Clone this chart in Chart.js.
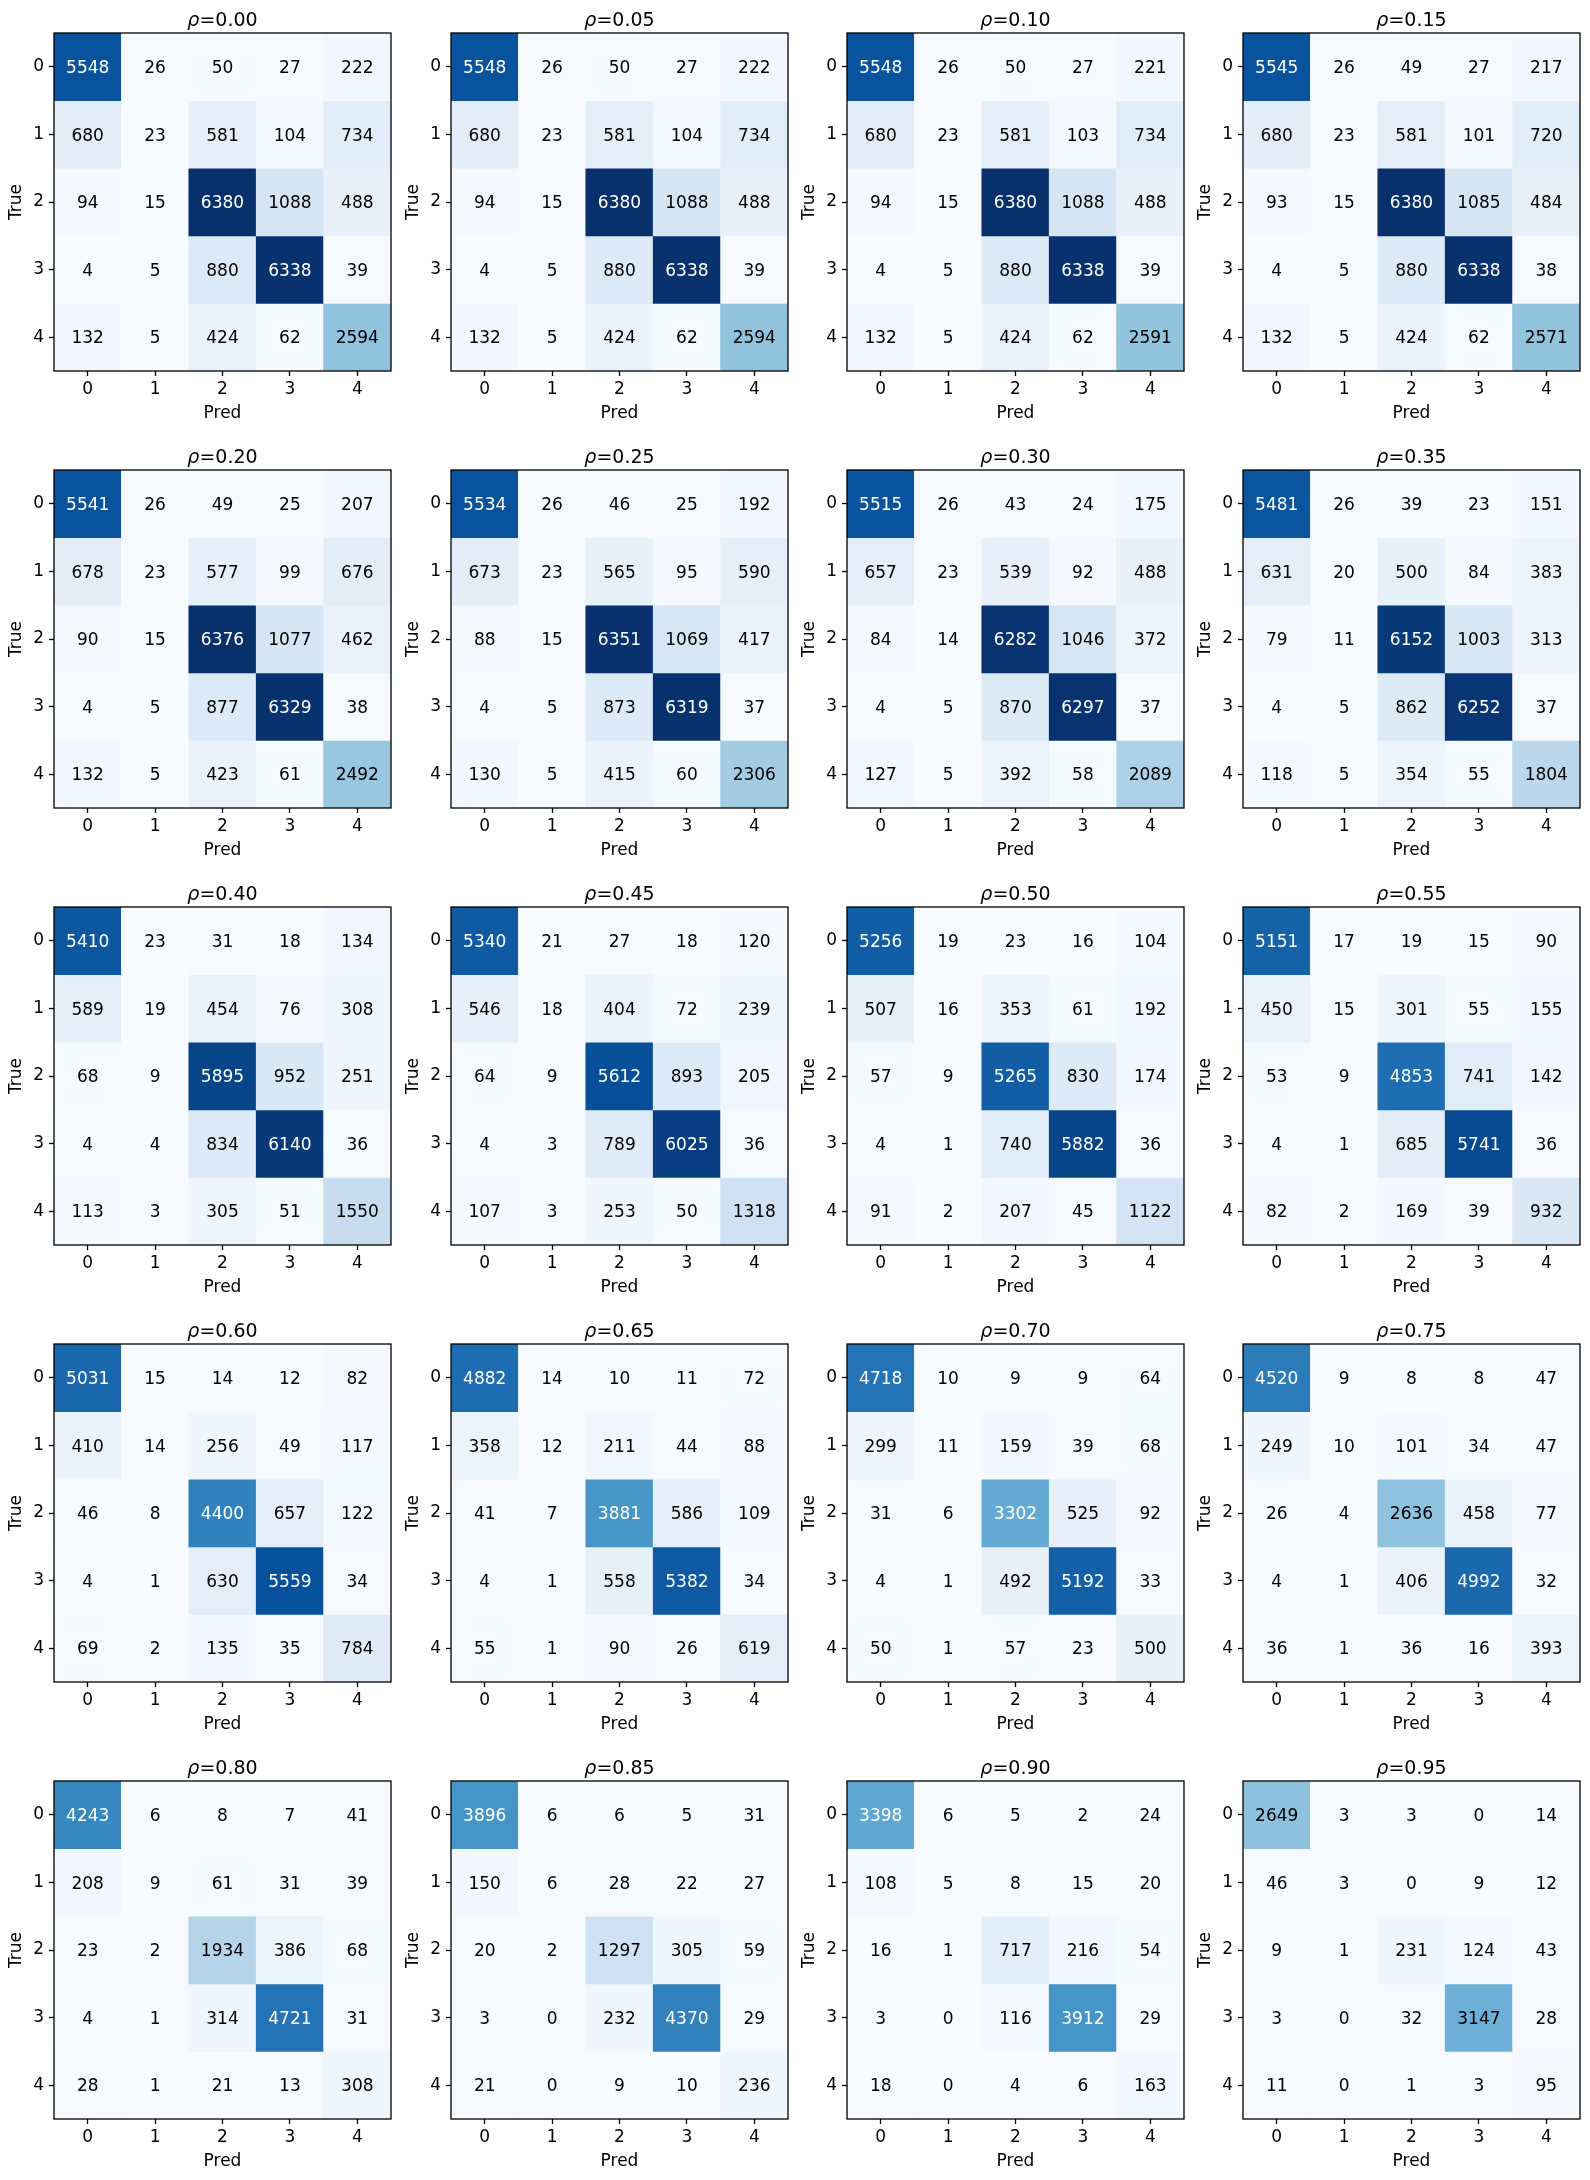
<!DOCTYPE html>
<html>
<head>
<meta charset="utf-8">
<script src="https://cdn.jsdelivr.net/npm/chart.js@4.4.1/dist/chart.umd.min.js"></script>
<style>
  html, body { margin: 0; padding: 0; background: #ffffff; }
  #wrap { position: relative; width: 1590px; height: 2180px; overflow: hidden; background: #ffffff; }
  #wrap canvas { position: absolute; }
</style>
</head>
<body>
<div id="wrap"></div>
<script>
// ---------------- data ----------------
const rhoLabels = ['0.00','0.05','0.10','0.15','0.20','0.25','0.30','0.35','0.40','0.45',
                   '0.50','0.55','0.60','0.65','0.70','0.75','0.80','0.85','0.90','0.95'];
const predLabels = ['0','1','2','3','4'];
const trueLabels = ['0','1','2','3','4'];

const cm_000 = [[5548,26,50,27,222],[680,23,581,104,734],[94,15,6380,1088,488],[4,5,880,6338,39],[132,5,424,62,2594]];
const cm_005 = [[5548,26,50,27,222],[680,23,581,104,734],[94,15,6380,1088,488],[4,5,880,6338,39],[132,5,424,62,2594]];
const cm_010 = [[5548,26,50,27,221],[680,23,581,103,734],[94,15,6380,1088,488],[4,5,880,6338,39],[132,5,424,62,2591]];
const cm_015 = [[5545,26,49,27,217],[680,23,581,101,720],[93,15,6380,1085,484],[4,5,880,6338,38],[132,5,424,62,2571]];
const cm_020 = [[5541,26,49,25,207],[678,23,577,99,676],[90,15,6376,1077,462],[4,5,877,6329,38],[132,5,423,61,2492]];
const cm_025 = [[5534,26,46,25,192],[673,23,565,95,590],[88,15,6351,1069,417],[4,5,873,6319,37],[130,5,415,60,2306]];
const cm_030 = [[5515,26,43,24,175],[657,23,539,92,488],[84,14,6282,1046,372],[4,5,870,6297,37],[127,5,392,58,2089]];
const cm_035 = [[5481,26,39,23,151],[631,20,500,84,383],[79,11,6152,1003,313],[4,5,862,6252,37],[118,5,354,55,1804]];
const cm_040 = [[5410,23,31,18,134],[589,19,454,76,308],[68,9,5895,952,251],[4,4,834,6140,36],[113,3,305,51,1550]];
const cm_045 = [[5340,21,27,18,120],[546,18,404,72,239],[64,9,5612,893,205],[4,3,789,6025,36],[107,3,253,50,1318]];
const cm_050 = [[5256,19,23,16,104],[507,16,353,61,192],[57,9,5265,830,174],[4,1,740,5882,36],[91,2,207,45,1122]];
const cm_055 = [[5151,17,19,15,90],[450,15,301,55,155],[53,9,4853,741,142],[4,1,685,5741,36],[82,2,169,39,932]];
const cm_060 = [[5031,15,14,12,82],[410,14,256,49,117],[46,8,4400,657,122],[4,1,630,5559,34],[69,2,135,35,784]];
const cm_065 = [[4882,14,10,11,72],[358,12,211,44,88],[41,7,3881,586,109],[4,1,558,5382,34],[55,1,90,26,619]];
const cm_070 = [[4718,10,9,9,64],[299,11,159,39,68],[31,6,3302,525,92],[4,1,492,5192,33],[50,1,57,23,500]];
const cm_075 = [[4520,9,8,8,47],[249,10,101,34,47],[26,4,2636,458,77],[4,1,406,4992,32],[36,1,36,16,393]];
const cm_080 = [[4243,6,8,7,41],[208,9,61,31,39],[23,2,1934,386,68],[4,1,314,4721,31],[28,1,21,13,308]];
const cm_085 = [[3896,6,6,5,31],[150,6,28,22,27],[20,2,1297,305,59],[3,0,232,4370,29],[21,0,9,10,236]];
const cm_090 = [[3398,6,5,2,24],[108,5,8,15,20],[16,1,717,216,54],[3,0,116,3912,29],[18,0,4,6,163]];
const cm_095 = [[2649,3,3,0,14],[46,3,0,9,12],[9,1,231,124,43],[3,0,32,3147,28],[11,0,1,3,95]];

const matrices = [cm_000,cm_005,cm_010,cm_015,cm_020,cm_025,cm_030,cm_035,cm_040,cm_045,
                  cm_050,cm_055,cm_060,cm_065,cm_070,cm_075,cm_080,cm_085,cm_090,cm_095];

// ---------------- colour map (matplotlib "Blues") ----------------
const BLUES = [[247,251,255],[222,235,247],[198,219,239],[158,202,225],[107,174,214],
               [66,146,198],[33,113,181],[8,81,156],[8,48,107]];
function blues(t) {
  t = Math.min(1, Math.max(0, t));
  const q = Math.min(255, Math.floor(t * 256)) / 255;
  const p = q * 8;
  const i = Math.min(7, Math.floor(p));
  const f = p - i;
  const a = BLUES[i], b = BLUES[i + 1];
  const c = a.map((v, k) => Math.round(v + (b[k] - v) * f));
  return `rgb(${c[0]},${c[1]},${c[2]})`;
}
let vmax = 0, vmin = Infinity;
matrices.forEach(m => m.forEach(r => r.forEach(v => { vmax = Math.max(vmax, v); vmin = Math.min(vmin, v); })));
vmin = Math.min(0, vmin);
const thresh = (vmax + vmin) / 2;

// ---------------- layout ----------------
const FONT = "'DejaVu Sans', 'Liberation Sans', sans-serif";
const colLeft = [0, 397, 793, 1189];
const rowTop = [0, 437, 874, 1311, 1748];
const CW = 396, CH = 432;

const framePlugin = {
  id: 'frameAndText',
  afterDatasetsDraw(chart) {
    const ctx = chart.ctx;
    const xs = chart.scales.x, ys = chart.scales.y;
    const ca = chart.chartArea;
    ctx.save();
    // cell annotations
    const fs = 17;
    ctx.font = `${fs}px ${FONT}`;
    ctx.textAlign = 'center';
    ctx.textBaseline = 'alphabetic';
    chart.data.datasets.forEach((ds, r) => {
      ds.counts.forEach((v, c) => {
        const x = xs.getPixelForValue(c);
        const y = ys.getPixelForValue(r);
        ctx.fillStyle = v > thresh ? '#ffffff' : '#000000';
        ctx.fillText(String(v), x, y + fs * 0.729 / 2);
      });
    });
    // frame
    ctx.strokeStyle = '#000000';
    ctx.lineWidth = 1.3;
    ctx.strokeRect(ca.left, ca.top, ca.right - ca.left, ca.bottom - ca.top);
    // title  (rho italic + "=x.xx")
    const label = chart.options.plugins.rhoTitle.text;
    const tfs = 19;
    const fItal = `italic ${tfs}px ${FONT}`;
    const fReg = `${tfs}px ${FONT}`;
    ctx.font = fItal;
    const w1 = ctx.measureText('\u03C1').width;
    ctx.font = fReg;
    const w2 = ctx.measureText('=' + label).width;
    const cx = (ca.left + ca.right) / 2;
    const x0 = cx - (w1 + w2) / 2;
    const by = ca.top - 7;
    ctx.fillStyle = '#000000';
    ctx.textAlign = 'left';
    ctx.font = fItal;
    ctx.fillText('\u03C1', x0, by);
    ctx.font = fReg;
    ctx.fillText('=' + label, x0 + w1, by);
    ctx.restore();
  }
};

const wrap = document.getElementById('wrap');
matrices.forEach((m, idx) => {
  const r = Math.floor(idx / 4), c = idx % 4;
  const cv = document.createElement('canvas');
  cv.width = CW; cv.height = CH;
  cv.style.left = colLeft[c] + 'px';
  cv.style.top = rowTop[r] + 'px';
  cv.style.width = CW + 'px';
  cv.style.height = CH + 'px';
  wrap.appendChild(cv);

  const datasets = m.map((row, ri) => ({
    label: 'True ' + trueLabels[ri],
    data: predLabels.map(() => [ri - 0.5, ri + 0.5]),
    counts: row,
    backgroundColor: row.map(v => blues((v - vmin) / (vmax - vmin))),
    borderWidth: 0,
    grouped: false,
    barPercentage: 1.0,
    categoryPercentage: 1.0
  }));

  new Chart(cv, {
    type: 'bar',
    data: { labels: predLabels, datasets },
    options: {
      responsive: false,
      animation: false,
      devicePixelRatio: 1,
      layout: { padding: { top: 33, right: 5, bottom: 5, left: 0 } },
      plugins: {
        legend: { display: false },
        tooltip: { enabled: false },
        title: { display: false },
        rhoTitle: { text: rhoLabels[idx] }
      },
      scales: {
        x: {
          type: 'category',
          offset: true,
          grid: { display: true, drawOnChartArea: false, drawTicks: true, tickLength: 5,
                  tickColor: '#000000', tickWidth: 1.3, offset: false },
          border: { display: false },
          ticks: { color: '#000000', font: { family: FONT, size: 17 }, padding: 3, maxRotation: 0, autoSkip: false },
          title: { display: true, text: 'Pred', color: '#000000', font: { family: FONT, size: 17 },
                   padding: { top: 0, bottom: 3 } },
          afterFit: (s) => { s.height = 56; }
        },
        y: {
          type: 'linear',
          min: -0.5, max: 4.5,
          reverse: true,
          grid: { display: true, drawOnChartArea: false, drawTicks: true, tickLength: 5,
                  tickColor: '#000000', tickWidth: 1.3 },
          border: { display: false },
          afterBuildTicks: (axis) => { axis.ticks = trueLabels.map((_, i) => ({ value: i })); },
          ticks: { color: '#000000', font: { family: FONT, size: 17 }, padding: 5,
                   callback: (v) => trueLabels[v] },
          title: { display: true, text: 'True', color: '#000000', font: { family: FONT, size: 17 },
                   padding: { top: 6, bottom: 0 } },
          afterFit: (s) => { s.width = 54; }
        }
      }
    },
    plugins: [framePlugin]
  });
});
</script>
</body>
</html>
